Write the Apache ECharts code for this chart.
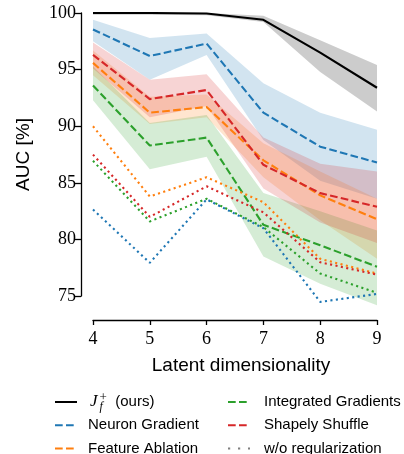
<!DOCTYPE html>
<html>
<head>
<meta charset="utf-8">
<script src="https://cdn.jsdelivr.net/npm/echarts@6/dist/echarts.min.js"></script>
<style>html,body{margin:0;padding:0;background:#fff;}#c{width:404px;height:454px;}</style>
</head>
<body>
<div id="c"></div>
<script>
// ---- data ----
const dims = ['4', '5', '6', '7', '8', '9'];
const yTicks = [75, 80, 85, 90, 95, 100];

const oursMean = [100, 100, 99.95, 99.4, 96.5, 93.4];
const oursHigh = [100, 100, 100, 99.75, 97.6, 95.4];
const oursLow  = [99.85, 99.85, 99.8, 99.2, 94.8, 91.3];

const neuronMean = [98.55, 96.2, 97.3, 91.2, 88.2, 86.8];
const neuronHigh = [99.4, 97.8, 98.2, 93.8, 91.2, 89.7];
const neuronLow  = [97.5, 94.1, 96.3, 88.8, 85.2, 83.6];

const ablationMean = [95.6, 91.2, 91.7, 87.0, 83.9, 81.8];
const ablationHigh = [96.7, 92.6, 92.8, 88.5, 86.0, 83.6];
const ablationLow  = [94.5, 90.2, 90.8, 85.5, 81.7, 78.3];

const igMean = [93.6, 88.3, 89.0, 81.3, 79.5, 77.6];
const igHigh = [95.3, 90.3, 91.0, 84.1, 82.5, 80.8];
const igLow  = [92.3, 86.2, 87.3, 78.5, 76.1, 74.2];

const shuffleMean = [96.3, 92.4, 93.2, 86.6, 84.1, 82.9];
const shuffleHigh = [97.4, 94.1, 94.6, 89.0, 86.7, 86.0];
const shuffleLow  = [95.1, 90.8, 91.8, 84.5, 81.5, 79.7];

const neuronNoReg   = [82.65, 77.95, 83.55, 81.0, 74.5, 75.2];
const ablationNoReg = [90.0, 83.8, 85.5, 83.3, 78.3, 77.0];
const igNoReg       = [86.95, 81.6, 83.6, 81.1, 77.0, 75.3];
const shuffleNoReg  = [87.5, 82.0, 84.7, 82.4, 78.0, 76.9];

// ---- styling ----
const C = {
  ours: '#000000', neuron: '#1f77b4', ablation: '#ff7f0e',
  ig: '#2ca02c', shuffle: '#d62728', grey: '#7f7f7f'
};
const DASH = [7.7, 3.3];
const DOT = [2.1, 3.4];
const LW = 2.1;

function rgba(hex, a) {
  const n = parseInt(hex.slice(1), 16);
  return 'rgba(' + (n >> 16 & 255) + ',' + (n >> 8 & 255) + ',' + (n & 255) + ',' + a + ')';
}

function band(id, low, high, color) {
  return [
    { name: id + ' low', type: 'line', stack: id, data: low, symbol: 'none', silent: true,
      lineStyle: { width: 0, opacity: 0 }, xAxisIndex: 0, yAxisIndex: 0, z: 1, animation: false },
    { name: id + ' band', type: 'line', stack: id, data: high.map((h, i) => +(h - low[i]).toFixed(3)),
      symbol: 'none', silent: true, lineStyle: { width: 0, opacity: 0 },
      areaStyle: { color: rgba(color, 0.2), opacity: 1 }, xAxisIndex: 0, yAxisIndex: 0, z: 1, animation: false }
  ];
}
function line(name, data, color, dash, z) {
  return { name: name, type: 'line', data: data, symbol: 'none', silent: true,
    lineStyle: { color: color, width: LW, type: dash, cap: 'butt' }, itemStyle: { color: color },
    xAxisIndex: 0, yAxisIndex: 0, z: z || 3, animation: false };
}

const OURS = 'J_f^+ (ours)';
const series = [].concat(
  band('ours', oursLow, oursHigh, C.ours),
  band('neuron', neuronLow, neuronHigh, C.neuron),
  band('ablation', ablationLow, ablationHigh, C.ablation),
  band('ig', igLow, igHigh, C.ig),
  band('shuffle', shuffleLow, shuffleHigh, C.shuffle),
  [
    line('Neuron Gradient', neuronMean, C.neuron, DASH),
    line('Feature Ablation', ablationMean, C.ablation, DASH),
    line('Integrated Gradients', igMean, C.ig, DASH),
    line('Shapely Shuffle', shuffleMean, C.shuffle, DASH),
    line('neuron noreg', neuronNoReg, C.neuron, DOT),
    line('ablation noreg', ablationNoReg, C.ablation, DOT),
    line('ig noreg', igNoReg, C.ig, DOT),
    line('shuffle noreg', shuffleNoReg, C.shuffle, DOT),
    line(OURS, oursMean, C.ours, 'solid', 4),
    { name: 'w/o regularization', type: 'line', data: [], symbol: 'none',
      lineStyle: { color: C.grey, width: LW, type: [2.2, 7.8] }, itemStyle: { color: C.grey },
      xAxisIndex: 0, yAxisIndex: 0 }
  ]
);

const SERIF = '"Liberation Serif", "DejaVu Serif", serif';
const SANS = '"Liberation Sans", Arial, sans-serif';

function legendText(padLeft) {
  return {
    fontFamily: SANS, fontSize: 15, color: '#000', lineHeight: 22, padding: [0, 0, 0, padLeft],
    rich: {
      j: { fontFamily: SERIF, fontStyle: 'italic', fontSize: 17, lineHeight: 22, verticalAlign: 'middle', padding: [0, 2, 0, 2] },
      sub: { fontFamily: SERIF, fontStyle: 'italic', fontSize: 12, lineHeight: 22, verticalAlign: 'bottom', width: 0 },
      sup: { fontFamily: SERIF, fontSize: 13, lineHeight: 22, verticalAlign: 'top' },
      t: { fontFamily: SANS, fontSize: 15, lineHeight: 22, verticalAlign: 'middle' }
    }
  };
}

const legendBase = {
  orient: 'vertical', itemWidth: 22, itemHeight: 14, itemGap: 1.3, height: 90, padding: 0,
  selectedMode: false,
  itemStyle: { opacity: 0, borderWidth: 0 },
  formatter: function (name) {
    if (name === OURS) return '{j|J}{sub|f}{sup|+}{t|  (ours)}';
    return name;
  }
};

const option = {
  animation: false,
  backgroundColor: '#fff',
  grid: [
    { left: 93, right: 27, top: 13, bottom: 134, containLabel: false },
    { left: 93, right: 27, top: 13, bottom: 158, containLabel: false }
  ],
  xAxis: [
    { type: 'category', gridIndex: 0, data: dims, boundaryGap: false,
      axisLine: { show: true, lineStyle: { color: '#000', width: 1.3 } },
      axisTick: { show: true, inside: false, length: 5, alignWithLabel: true, lineStyle: { color: '#000', width: 1.3 } },
      axisLabel: { fontFamily: SERIF, fontSize: 18, color: '#000', margin: 10 },
      splitLine: { show: false },
      name: 'Latent dimensionality', nameLocation: 'middle', nameGap: 36,
      nameTextStyle: { fontFamily: SANS, fontSize: 19, color: '#000', padding: [0, 0, 0, 12] } },
    { type: 'category', gridIndex: 1, data: dims, boundaryGap: false, show: false }
  ],
  yAxis: [
    { type: 'value', gridIndex: 0, min: 72.9, max: 100, show: false, splitLine: { show: false } },
    { type: 'value', gridIndex: 1, min: yTicks[0], max: yTicks[yTicks.length - 1], interval: 5,
      offset: 12,
      axisLine: { show: true, lineStyle: { color: '#000', width: 1.3 } },
      axisTick: { show: true, inside: false, length: 6, lineStyle: { color: '#000', width: 1.3 } },
      axisLabel: { fontFamily: SERIF, fontSize: 18, color: '#000', margin: 5 },
      splitLine: { show: false },
      name: 'AUC [%]', nameLocation: 'middle', nameGap: 48, nameRotate: 90,
      nameTextStyle: { fontFamily: SANS, fontSize: 19, color: '#000' } }
  ],
  legend: [
    Object.assign({}, legendBase, { left: 54, top: 391, textStyle: legendText(6),
      data: [OURS, 'Neuron Gradient', 'Feature Ablation'] }),
    Object.assign({}, legendBase, { left: 227, top: 391, textStyle: legendText(9),
      data: ['Integrated Gradients', 'Shapely Shuffle', 'w/o regularization'] })
  ],
  series: series
};

const chart = echarts.init(document.getElementById('c'), null, { renderer: 'canvas' });
chart.setOption(option);
</script>
</body>
</html>
